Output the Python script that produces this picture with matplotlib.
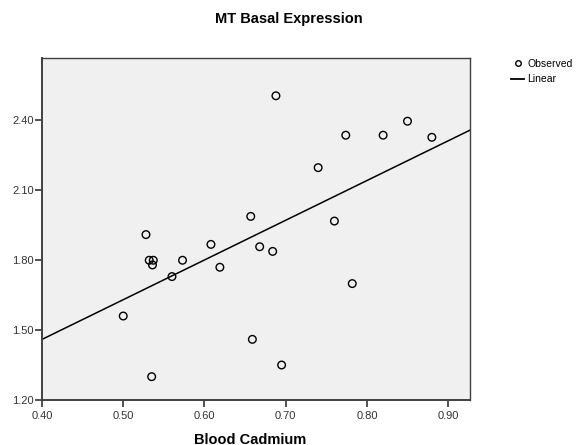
import numpy as np
import matplotlib
matplotlib.use("Agg")
import matplotlib.pyplot as plt
from matplotlib.lines import Line2D

plt.rcParams['font.family'] = ['Liberation Sans', 'DejaVu Sans']

# Blood cadmium vs MT basal expression
cadmium = [0.688, 0.774, 0.820, 0.850, 0.880, 0.740, 0.760, 0.657,
           0.528, 0.608, 0.668, 0.684, 0.532, 0.537, 0.536, 0.573,
           0.619, 0.560, 0.500, 0.659, 0.695, 0.535, 0.782]
expression = [2.504, 2.335, 2.335, 2.395, 2.326, 2.196, 1.967, 1.987,
              1.909, 1.867, 1.857, 1.837, 1.799, 1.799, 1.779, 1.799,
              1.769, 1.729, 1.560, 1.460, 1.350, 1.300, 1.699]
# linear fit as shown in the reference
fit_intercept = 0.779
fit_slope = 1.702
x_ticks = [0.40, 0.50, 0.60, 0.70, 0.80, 0.90]
y_ticks = [1.20, 1.50, 1.80, 2.10, 2.40]

x = np.array(cadmium)
y = np.array(expression)

fig = plt.figure(figsize=(5.78, 4.45), dpi=100)
ax = fig.add_axes([0.0727, 0.1011, 0.7405, 0.7686])
ax.set_facecolor('#f0f0f0')

ax.scatter(x, y, s=30, facecolors='none', edgecolors='black', linewidths=1, zorder=3)
xl = np.array([0.40, 0.927])
ax.plot(xl, fit_intercept + fit_slope * xl, color='black', lw=1.1, zorder=2)

ax.set_xlim(0.40, 0.927)
ax.set_ylim(1.20, 2.666)
ax.set_xticks(x_ticks)
ax.set_xticklabels(['%.2f' % t for t in x_ticks])
ax.set_yticks(y_ticks)
ax.set_yticklabels(['%.2f' % t for t in y_ticks])
ax.tick_params(direction='out', length=5, width=1.2, labelsize=8, colors='#333333', pad=1)
ax.tick_params(axis='x', pad=3)
for side in ['left', 'bottom']:
    ax.spines[side].set_linewidth(1.4)
for side in ['top', 'right']:
    ax.spines[side].set_linewidth(1.0)
for s in ax.spines.values():
    s.set_color('#404040')

ax.set_xlabel('Blood Cadmium', fontsize=10.5, fontweight='bold')
ax.xaxis.set_label_coords(208 / 428, -0.095)
fig.text(0.5, 0.957, 'MT Basal Expression', ha='center', va='center',
         fontsize=10.5, fontweight='bold')

handles = [Line2D([], [], marker='o', ls='none', mfc='none', mec='black', ms=4, mew=1),
           Line2D([], [], color='black', lw=1.3)]
fig.legend(handles, ['Observed', 'Linear'], loc='upper left', bbox_to_anchor=(0.884, 0.868),
           frameon=False, fontsize=7.5, handlelength=1.3, handletextpad=0.3,
           labelspacing=0.55, borderpad=0, borderaxespad=0)

fig.savefig('out.png', dpi=100)
